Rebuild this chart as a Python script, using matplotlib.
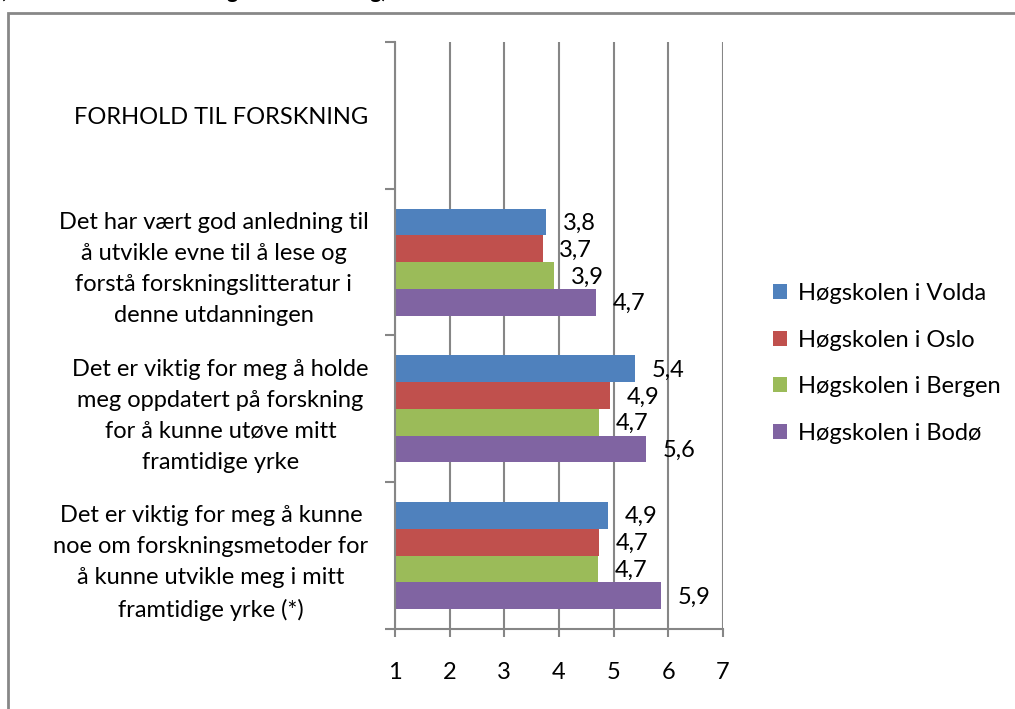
import matplotlib.pyplot as plt
from matplotlib.patches import Rectangle
import numpy as np

plt.rcParams['font.family'] = ['Lato', 'DejaVu Sans']

categories = ["FORHOLD TIL FORSKNING",
              "Det har vært god anledning til\nå utvikle evne til å lese og\nforstå forskningslitteratur i\ndenne utdanningen",
              "Det er viktig for meg å holde\nmeg oppdatert på forskning\nfor å kunne utøve mitt\nframtidige yrke",
              "Det er viktig for meg å kunne\nnoe om forskningsmetoder for\nå kunne utvikle meg i mitt\nframtidige yrke (*)"]
series = ["Høgskolen i Volda", "Høgskolen i Oslo", "Høgskolen i Bergen", "Høgskolen i Bodø"]
colors = ["#4F81BD", "#C0504D", "#9BBB59", "#8064A2"]
# values for the three items (the header row has no bars)
volda = [3.76, 5.39, 4.90]
oslo = [3.70, 4.93, 4.73]
bergen = [3.91, 4.73, 4.71]
bodo = [4.67, 5.59, 5.87]
values = [volda, oslo, bergen, bodo]

fs = 17

fig = plt.figure(figsize=(10.15, 7.09), dpi=100)
ax = fig.add_axes([395/1015, 1-629/709, (723-395)/1015, (629-42)/709])

h = 0.73/4
ypos = np.arange(1, len(categories))
for i, (vals, col, name) in enumerate(zip(values, colors, series)):
	y = ypos + (i-1.5)*h
	ax.barh(y, np.array(vals)-1, left=1, height=h, color=col, label=name, zorder=3)
	for yy, v in zip(y, vals):
		ax.annotate(('%.1f' % v).replace('.', ','), (v, yy), xytext=(12, -1),
			textcoords='offset points', ha='left', va='center', fontsize=fs)

ax.set_xlim(1, 7)
ax.set_ylim(len(categories)-0.5, -0.5)
ax.set_xticks(range(1, 8))
ax.tick_params(axis='x', labelsize=fs, length=6, width=1.5, color='#868686', pad=18)
ax.set_yticks(range(len(categories)))
ax.set_yticklabels(categories, fontsize=fs, linespacing=1.58)
for lab in ax.get_yticklabels():
	lab.set_multialignment('center')
ax.set_yticks(np.arange(-0.5, len(categories), 1), minor=True)
ax.tick_params(axis='y', which='major', length=0, pad=19)
ax.tick_params(axis='y', which='minor', length=7, width=1.5, color='#868686')
ax.grid(axis='x', color='#868686', linewidth=1.5, zorder=0)
for s in ['top', 'right']:
	ax.spines[s].set_visible(False)
for s in ['left', 'bottom']:
	ax.spines[s].set_color('#868686')
	ax.spines[s].set_linewidth(1.5)
	ax.spines[s].set_zorder(4)

fig.legend(loc='upper left', bbox_to_anchor=(752/1015, 1-262/709), frameon=False,
	fontsize=fs, handlelength=0.6, handleheight=0.6, handletextpad=0.45, labelspacing=1.08)

fig.add_artist(Rectangle((8/1015, -0.1), 1.1, 1-13/709+0.1, transform=fig.transFigure,
	fill=False, edgecolor='#878787', linewidth=2))
fig.text(0.0, 1+2/709, "(Verdier fra 1 = helt uenig til 7 = helt enig)", fontsize=15,
	weight='bold', va='baseline')

fig.savefig('out.png', dpi=100)
